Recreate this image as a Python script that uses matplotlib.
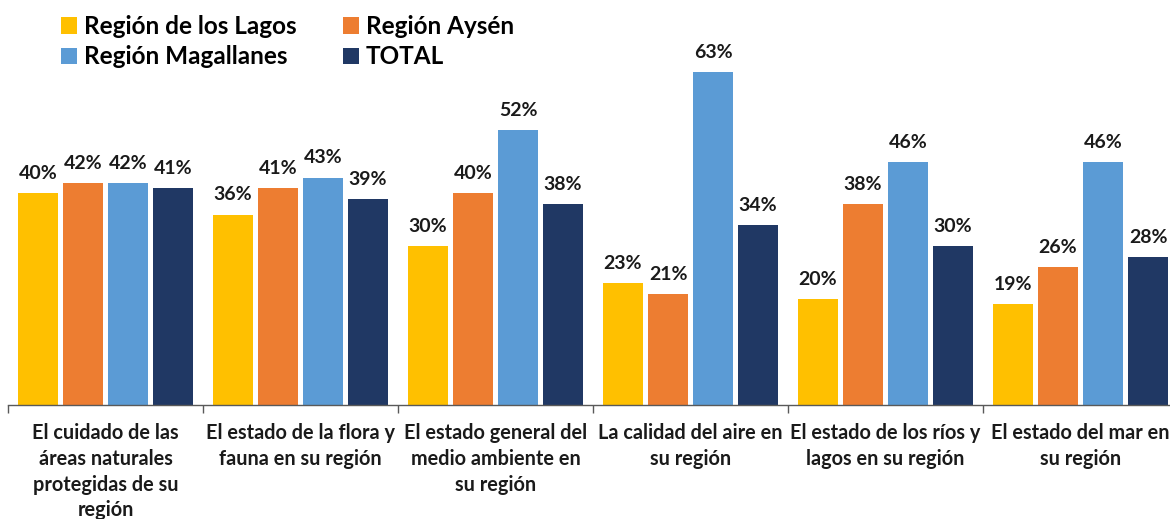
import matplotlib
matplotlib.use("Agg")
import matplotlib.pyplot as plt
from matplotlib.patches import Patch
import numpy as np

plt.rcParams['font.family'] = ['Lato', 'DejaVu Sans']

categories = [
    "El cuidado de las\náreas naturales\nprotegidas de su\nregión",
    "El estado de la flora y\nfauna en su región",
    "El estado general del\nmedio ambiente en\nsu región",
    "La calidad del aire en\nsu región",
    "El estado de los ríos y\nlagos en su región",
    "El estado del mar en\nsu región",
]
series_names = ["Región de los Lagos", "Región Aysén", "Región Magallanes", "TOTAL"]
lagos = [40, 36, 30, 23, 20, 19]
aysen = [42, 41, 40, 21, 38, 26]
magallanes = [42, 43, 52, 63, 46, 46]
total = [41, 39, 38, 34, 30, 28]
series = [lagos, aysen, magallanes, total]
colors = ["#FFC000", "#ED7D31", "#5B9BD5", "#203864"]

W, H = 1170, 519
fig = plt.figure(figsize=(W / 100, H / 100), dpi=100)
left_px, right_px = 8, 8 + 6 * 195
bottom_px, top_px = 405, 20
ax = fig.add_axes([left_px / W, (H - bottom_px) / H,
                   (right_px - left_px) / W, (bottom_px - top_px) / H])

x = np.arange(len(categories))
bw = 40 / 195
step = 45 / 195
for i, (vals, c) in enumerate(zip(series, colors)):
    pos = x + (i - 1.5) * step
    ax.bar(pos, vals, width=bw, color=c, zorder=2)
    for p, v in zip(pos, vals):
        ax.annotate(f"{v}%", (p, v), xytext=(0, 8), textcoords="offset points",
                    ha="center", va="bottom", fontsize=14, fontweight="bold",
                    color="#1a1a1a")

ax.set_xlim(-0.5, len(categories) - 0.5)
ax.set_ylim(0, (bottom_px - top_px) / 5.29)
ax.set_yticks([])
for s in ["top", "right", "left"]:
    ax.spines[s].set_visible(False)
ax.spines["bottom"].set_color("#595959")
ax.spines["bottom"].set_linewidth(1.0)

ax.set_xticks(np.arange(-0.5, len(categories), 1.0))
ax.set_xticklabels([])
ax.tick_params(axis="x", length=6, color="#595959", width=1.0)
ax.set_xticks(x, minor=True)
ax.set_xticklabels(categories, minor=True, fontsize=14.3, fontweight="bold",
                   color="#1a1a1a", linespacing=1.36)
ax.tick_params(axis="x", which="minor", length=0, pad=13)

# legend fills column-wise: reorder so rows read Lagos, Aysén / Magallanes, TOTAL
order = [0, 2, 1, 3]
handles = [Patch(facecolor=colors[k]) for k in order]
labels = [series_names[k] for k in order]
fig.legend(handles, labels, loc="upper left", ncol=2,
           bbox_to_anchor=(61 / W, 1.0 - 15 / H), frameon=False,
           prop={"size": 17.5, "weight": "bold"},
           handlelength=0.65, handleheight=0.65, handletextpad=0.3,
           columnspacing=1.9, labelspacing=0.3, borderaxespad=0, borderpad=0)

fig.savefig("out.png", dpi=100)
